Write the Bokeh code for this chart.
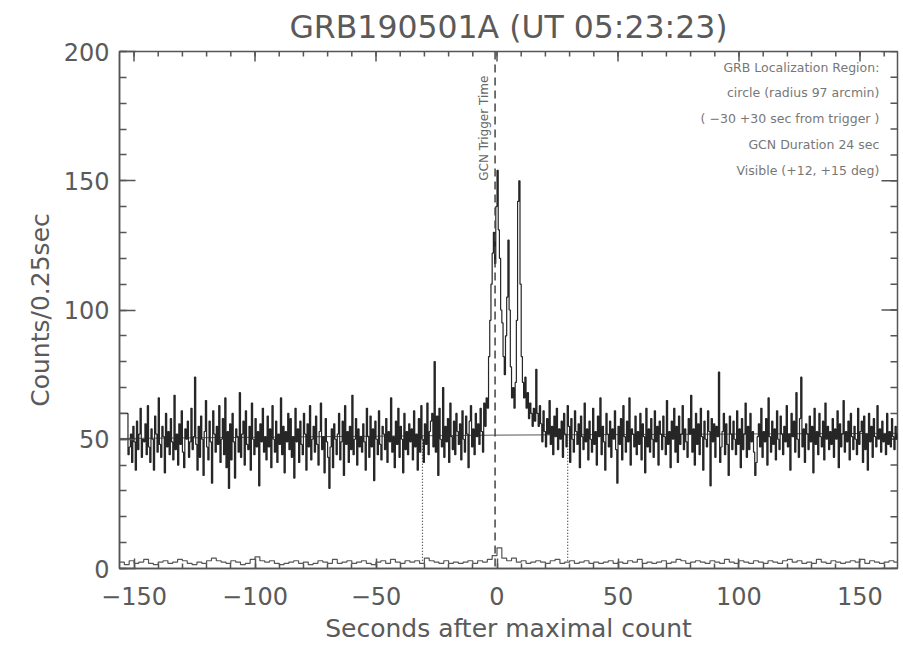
import numpy as np
from bokeh.plotting import figure
from bokeh.models import Range1d, Label, FixedTicker, Span
from bokeh.embed import file_html
from bokeh.resources import INLINE
from bokeh.core.properties import value

# ---------------- data ----------------
title_text = "GRB190501A (UT 05:23:23)"
x_label = "Seconds after maximal count"
y_label = "Counts/0.25sec"
x_ticks = [-150, -100, -50, 0, 50, 100, 150]
x_tick_labels = ["\u2212150", "\u2212100", "\u221250", "0", "50", "100", "150"]
y_ticks = [0, 50, 100, 150, 200]
y_tick_labels = ["0", "50", "100", "150", "200"]

bin_width = 0.5
burst_start = -4.0

# background before the burst (ends at burst_start)
counts_pre = [
    60, 60, 60, 60, 60, 60, 60, 44, 47, 52, 41, 55, 49, 38, 57, 46, 52, 62, 43, 50,
    49, 56, 44, 63, 47, 41, 54, 50, 38, 59, 52, 45, 66, 48, 43, 55, 51, 37, 60, 47,
    53, 44, 58, 49, 42, 67, 46, 52, 40, 56, 48, 61, 45, 39, 54, 50, 57, 43, 49, 62,
    46, 51, 74, 48, 38, 55, 43, 59, 50, 36, 53, 65, 47, 42, 57, 49, 33, 61, 52, 45,
    55, 48, 63, 41, 50, 58, 44, 66, 39, 53, 31, 56, 42, 60, 49, 35, 54, 51, 45, 68,
    43, 52, 57, 40, 61, 48, 46, 55, 38, 64, 50, 44, 58, 47, 53, 32, 56, 49, 62, 45,
    51, 42, 59, 47, 54, 39, 63, 50, 45, 57, 41, 52, 48, 66, 44, 55, 37, 53, 49, 60,
    46, 58, 43, 51, 35, 62, 49, 54, 41, 57, 48, 44, 60, 52, 38, 56, 47, 63, 42, 50,
    55, 45, 59, 48, 40, 53, 64, 46, 51, 37, 58, 49, 43, 31, 47, 54, 39, 56, 50, 44,
    52, 60, 42, 49, 57, 36, 63, 48, 53, 41, 55, 46, 67, 44, 50, 58, 40, 54, 47, 51,
    45, 56, 49, 38, 62, 51, 43, 59, 47, 54, 34, 57, 50, 44, 61, 48, 42, 55, 52, 46,
    58, 41, 53, 49, 66, 45, 51, 39, 57, 48, 62, 43, 55, 50, 37, 60, 46, 53, 44, 56,
    49, 54, 42, 61, 47, 52, 38, 58, 45, 63, 50, 41, 56, 48, 64, 44, 53, 57, 60, 47,
    80, 45, 59, 36, 62, 50, 47, 70, 43, 55, 49, 58, 41, 64, 51, 46, 57, 44, 60, 53,
    48, 56, 42, 61, 50, 45, 59, 52, 39, 57, 63, 47, 54, 44, 60, 51, 56, 48, 62, 53,
    45, 64, 55, 66,
]

# the burst itself (starts at burst_start)
counts_burst = [
    62, 82, 96, 110, 122, 130, 118, 140, 154, 131,
    120, 100, 95, 82, 75, 90, 105, 127, 100, 78,
    66, 70, 62, 72, 96, 142, 150, 110, 82, 72,
    66, 74, 62, 68, 58, 64, 60, 55, 62, 57,
    77, 60, 55, 63,
]

# background after the burst
counts_post = [
    56, 49, 61, 53, 47, 58, 52, 65, 48, 55, 44, 59, 51, 62, 46, 54, 50, 57, 43, 60,
    52, 47, 63, 55, 41, 58, 50, 45, 61, 53, 48, 56, 39, 59, 51, 46, 64, 49, 54, 42,
    57, 50, 45, 62, 48, 53, 40, 59, 51, 66, 44, 55, 49, 38, 60, 52, 47, 57, 43, 54,
    50, 61, 46, 33, 55, 48, 58, 42, 63, 51, 45, 57, 49, 66, 40, 54, 52, 47, 59, 44,
    53, 48, 60, 42, 56, 51, 37, 62, 47, 54, 45, 58, 50, 43, 61, 49, 55, 40, 57, 52,
    46, 59, 51, 44, 65, 48, 53, 39, 57, 50, 62, 45, 55, 41, 59, 48, 52, 63, 46, 54,
    49, 43, 58, 52, 67, 45, 54, 40, 60, 48, 56, 44, 62, 51, 38, 57, 50, 47, 61, 53,
    32, 58, 49, 56, 43, 55, 51, 76, 41, 47, 53, 60, 44, 56, 48, 36, 59, 52, 46, 57,
    50, 44, 61, 48, 54, 39, 58, 46, 52, 64, 43, 55, 46, 60, 49, 53, 45, 36, 41, 51,
    56, 47, 62, 43, 53, 49, 58, 40, 66, 51, 45, 57, 48, 54, 42, 61, 50, 46, 59, 52,
    44, 55, 49, 63, 47, 52, 38, 60, 51, 57, 45, 68, 50, 43, 58, 74, 47, 54, 41, 56,
    52, 46, 59, 49, 55, 37, 62, 48, 53, 44, 60, 51, 47, 57, 42, 64, 50, 55, 46, 53,
    48, 58, 43, 54, 50, 61, 39, 56, 47, 52, 65, 45, 53, 49, 57, 42, 60, 51, 46, 55,
    50, 44, 62, 48, 53, 57, 41, 59, 46, 52, 38, 60, 49, 55, 43, 58, 51, 47, 63, 50,
    54, 45, 57, 49, 52, 44, 60, 48, 53, 47, 58, 51, 46, 55, 50, 52,
]

# lower (second) curve, 2 s bins starting at low_start
low_start = -156.0
low_bin_width = 2.0
low_counts = [
    2.5, 1.5, 3, 2, 2.5, 3.5, 2, 1.5, 2.5, 3,
    2, 2.5, 3.5, 3, 2, 1.5, 2.5, 2, 3, 4,
    3, 2.5, 2, 3, 2.5, 1.5, 2, 3.5, 4.5, 3,
    2.5, 3, 2, 1.5, 2, 2.5, 3, 2, 2.5, 1.5,
    2, 3, 2.5, 2, 3.5, 2, 2.5, 3, 2, 2.5,
    3, 2, 1.5, 2.5, 3, 2, 3.5, 2.5, 2, 3,
    2.5, 3, 2, 4, 3, 2.5, 2, 3, 2, 2.5,
    2, 2.5, 3, 2, 3, 2.5, 3.5, 5, 8, 4,
    3, 4, 2.5, 3, 2, 2.5, 3, 2.5, 2, 3,
    3.5, 2, 2.5, 3, 2, 2.5, 3, 2, 2.5, 2,
    2.5, 3, 2, 2.5, 2, 3, 2.5, 3.5, 2, 2.5,
    2, 2.5, 3, 2, 2.5, 3.5, 3, 2, 2.5, 3,
    2.5, 2, 3, 2.5, 2, 3.5, 2.5, 2, 3, 2.5,
    2, 3, 2.5, 2, 3, 2.5, 2, 3, 3.5, 2.5,
    3, 2, 2.5, 2, 3.5, 2.5, 2, 3, 2.5, 2,
    2.5, 3, 2.5, 3.5, 2, 3, 2.5, 2, 2.5, 3,
    2.5,
]

trigger_time = -0.8
window_offsets = [-30, 30]
window_y = [3, 51]
bg_x = [-156, 0, 165.5]
bg_y = [50.3, 51.6, 52.3]

info_lines = ["GRB Localization Region:", "circle (radius 97 arcmin)",
              "( \u221230 +30 sec from trigger )", "GCN Duration 24 sec",
              "Visible (+12, +15 deg)"]
info_x = 158
info_y = [194, 184, 174, 164, 154]
trigger_label = "GCN Trigger Time"
trigger_label_y = 150

x_min, x_max = -156.0, 165.5
y_min, y_max = 0, 200

# ---------------- build step arrays ----------------
pre_x = burst_start - bin_width * len(counts_pre) + bin_width * np.arange(len(counts_pre))
burst_x = burst_start + bin_width * np.arange(len(counts_burst))
post_start = burst_start + bin_width * len(counts_burst)
post_x = post_start + bin_width * np.arange(len(counts_post))
all_x = np.concatenate([pre_x, burst_x, post_x])
all_y = list(counts_pre) + list(counts_burst) + list(counts_post)
step_x = np.append(all_x, all_x[-1] + bin_width)
step_y = all_y + [all_y[-1]]

low_x = low_start + low_bin_width * np.arange(len(low_counts) + 1)
low_y = list(low_counts) + [low_counts[-1]]

# ---------------- figure ----------------
AX = "#555555"
TXT = "#5a5a5a"
FONT = "DejaVu Sans"

p = figure(width=900, height=645, x_range=Range1d(x_min, x_max), y_range=Range1d(y_min, y_max),
           output_backend="svg", toolbar_location=None,
           min_border_left=119, min_border_right=3, min_border_top=50, min_border_bottom=76,
           background_fill_color="white", border_fill_color="white")
p.grid.visible = False
p.outline_line_color = AX
p.outline_line_width = 1.5

p.title.text = title_text
p.title.align = "center"
p.title.text_font = FONT
p.title.text_font_size = "31.5px"
p.title.text_font_style = "normal"
p.title.text_color = TXT
p.title.standoff = 13
p.title.offset = -6

x_minor = list(np.arange(-150, 170, 10))
y_minor = list(np.arange(0, 210, 10))


def style_axis(ax, major, minor, tin, tmin):
    ax.ticker = FixedTicker(ticks=major, minor_ticks=minor)
    ax.major_tick_in = tin
    ax.major_tick_out = 0
    ax.minor_tick_in = tmin
    ax.minor_tick_out = 0
    ax.axis_line_color = AX
    ax.axis_line_width = 1.5
    ax.major_tick_line_color = AX
    ax.major_tick_line_width = 1.5
    ax.minor_tick_line_color = AX
    ax.minor_tick_line_width = 1.5
    ax.major_label_text_font = FONT
    ax.major_label_text_font_size = "24px"
    ax.major_label_text_color = TXT
    ax.axis_label_text_font = FONT
    ax.axis_label_text_font_size = "25px"
    ax.axis_label_text_font_style = "normal"
    ax.axis_label_text_color = TXT


xb = p.below[0]
style_axis(xb, x_ticks, x_minor, 10, 5)
xb.major_label_overrides = dict(zip(x_ticks, x_tick_labels))
xb.major_label_standoff = 18
xb.axis_label = x_label
xb.axis_label_standoff = 6

yl = p.left[0]
style_axis(yl, y_ticks, y_minor, 16, 7)
yl.major_label_overrides = dict(zip(y_ticks, y_tick_labels))
yl.major_label_standoff = 10
yl.axis_label = y_label
yl.axis_label_standoff = 6

# inward ticks on the top and right edges of the frame
p.ray(x=x_ticks, y=y_max, length=10, angle=-np.pi / 2, length_units="screen",
      line_color=AX, line_width=1.5)
p.ray(x=x_minor, y=y_max, length=5, angle=-np.pi / 2, length_units="screen",
      line_color=AX, line_width=1.5)
p.ray(x=x_max, y=y_ticks, length=16, angle=np.pi, length_units="screen",
      line_color=AX, line_width=1.5)
p.ray(x=x_max, y=y_minor, length=7, angle=np.pi, length_units="screen",
      line_color=AX, line_width=1.5)

# background level
p.line(bg_x, bg_y, line_color="#555555", line_width=1)

# light curves
p.step(step_x, step_y, mode="after", line_color="#262626", line_width=1.2)
p.step(low_x, low_y, mode="after", line_color="#555555", line_width=1.2)

# trigger line and window
p.add_layout(Span(location=trigger_time, dimension="height", line_color="#444444",
                  line_width=1.5, line_dash="8 5"))
p.segment(x0=[trigger_time + w for w in window_offsets], y0=window_y[0],
          x1=[trigger_time + w for w in window_offsets], y1=window_y[1],
          line_color="#333333", line_width=1.2, line_dash="1 2")

p.add_layout(Label(x=trigger_time, y=trigger_label_y, x_offset=-4, text=trigger_label,
                   angle=np.pi / 2, text_align="left", text_baseline="bottom",
                   text_font=FONT, text_font_size="12px", text_color="#666666"))

p.text(x=[info_x] * len(info_lines), y=info_y, text=info_lines, text_align="right",
       text_baseline="middle", text_font=value(FONT), text_font_size="12.5px",
       text_color="#777777")

open("out.html", "w").write(file_html(p, INLINE))
